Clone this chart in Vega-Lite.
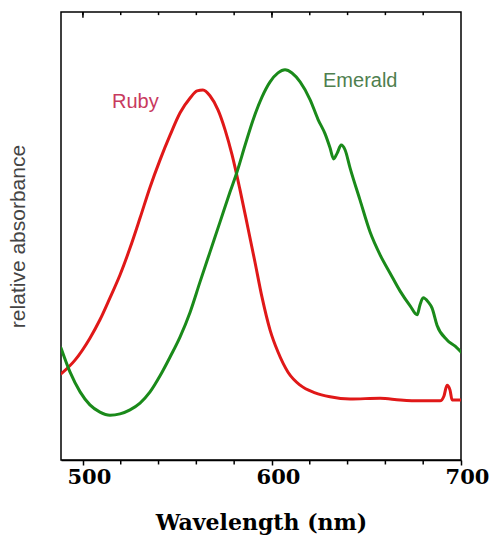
{
  "$schema": "https://vega.github.io/schema/vega-lite/v6.json",
  "autosize": "none",
  "width": 400,
  "height": 448,
  "padding": {"left": 61, "top": 12, "right": 36, "bottom": 75},
  "background": "white",
  "config": {
    "view": {"stroke": "black", "strokeWidth": 1.5},
    "font": "Liberation Sans",
    "axis": {"labelOverlap": false, "labelFlush": false}
  },
  "datasets": {
    "spectra": [
      {"series": "Ruby", "wavelength": 488.4, "absorbance": 0.192},
      {"series": "Ruby", "wavelength": 495.8, "absorbance": 0.223},
      {"series": "Ruby", "wavelength": 503.7, "absorbance": 0.272},
      {"series": "Ruby", "wavelength": 509.0, "absorbance": 0.313},
      {"series": "Ruby", "wavelength": 514.3, "absorbance": 0.362},
      {"series": "Ruby", "wavelength": 519.6, "absorbance": 0.413},
      {"series": "Ruby", "wavelength": 524.9, "absorbance": 0.473},
      {"series": "Ruby", "wavelength": 530.2, "absorbance": 0.540},
      {"series": "Ruby", "wavelength": 535.5, "absorbance": 0.609},
      {"series": "Ruby", "wavelength": 540.8, "absorbance": 0.670},
      {"series": "Ruby", "wavelength": 546.1, "absorbance": 0.725},
      {"series": "Ruby", "wavelength": 551.4, "absorbance": 0.775},
      {"series": "Ruby", "wavelength": 556.7, "absorbance": 0.808},
      {"series": "Ruby", "wavelength": 560.4, "absorbance": 0.824},
      {"series": "Ruby", "wavelength": 563.5, "absorbance": 0.826},
      {"series": "Ruby", "wavelength": 567.2, "absorbance": 0.813},
      {"series": "Ruby", "wavelength": 571.5, "absorbance": 0.781},
      {"series": "Ruby", "wavelength": 575.2, "absorbance": 0.737},
      {"series": "Ruby", "wavelength": 578.9, "absorbance": 0.681},
      {"series": "Ruby", "wavelength": 583.1, "absorbance": 0.603},
      {"series": "Ruby", "wavelength": 587.3, "absorbance": 0.518},
      {"series": "Ruby", "wavelength": 591.0, "absorbance": 0.442},
      {"series": "Ruby", "wavelength": 594.7, "absorbance": 0.364},
      {"series": "Ruby", "wavelength": 599.0, "absorbance": 0.290},
      {"series": "Ruby", "wavelength": 603.2, "absorbance": 0.241},
      {"series": "Ruby", "wavelength": 608.5, "absorbance": 0.196},
      {"series": "Ruby", "wavelength": 614.9, "absorbance": 0.167},
      {"series": "Ruby", "wavelength": 622.8, "absorbance": 0.150},
      {"series": "Ruby", "wavelength": 630.7, "absorbance": 0.141},
      {"series": "Ruby", "wavelength": 641.3, "absorbance": 0.136},
      {"series": "Ruby", "wavelength": 657.2, "absorbance": 0.138},
      {"series": "Ruby", "wavelength": 667.8, "absorbance": 0.134},
      {"series": "Ruby", "wavelength": 678.3, "absorbance": 0.132},
      {"series": "Ruby", "wavelength": 688.9, "absorbance": 0.132},
      {"series": "Ruby", "wavelength": 691.0, "absorbance": 0.143},
      {"series": "Ruby", "wavelength": 692.6, "absorbance": 0.167},
      {"series": "Ruby", "wavelength": 694.2, "absorbance": 0.156},
      {"series": "Ruby", "wavelength": 695.3, "absorbance": 0.134},
      {"series": "Ruby", "wavelength": 700.0, "absorbance": 0.134},
      {"series": "Emerald", "wavelength": 488.4, "absorbance": 0.250},
      {"series": "Emerald", "wavelength": 493.2, "absorbance": 0.196},
      {"series": "Emerald", "wavelength": 498.5, "absorbance": 0.152},
      {"series": "Emerald", "wavelength": 503.7, "absorbance": 0.123},
      {"series": "Emerald", "wavelength": 509.0, "absorbance": 0.107},
      {"series": "Emerald", "wavelength": 514.3, "absorbance": 0.100},
      {"series": "Emerald", "wavelength": 519.6, "absorbance": 0.103},
      {"series": "Emerald", "wavelength": 524.9, "absorbance": 0.112},
      {"series": "Emerald", "wavelength": 530.2, "absorbance": 0.127},
      {"series": "Emerald", "wavelength": 535.5, "absorbance": 0.152},
      {"series": "Emerald", "wavelength": 540.8, "absorbance": 0.188},
      {"series": "Emerald", "wavelength": 546.1, "absorbance": 0.230},
      {"series": "Emerald", "wavelength": 551.4, "absorbance": 0.275},
      {"series": "Emerald", "wavelength": 556.7, "absorbance": 0.330},
      {"series": "Emerald", "wavelength": 561.9, "absorbance": 0.397},
      {"series": "Emerald", "wavelength": 567.2, "absorbance": 0.464},
      {"series": "Emerald", "wavelength": 572.5, "absorbance": 0.531},
      {"series": "Emerald", "wavelength": 577.8, "absorbance": 0.598},
      {"series": "Emerald", "wavelength": 581.5, "absorbance": 0.643},
      {"series": "Emerald", "wavelength": 585.8, "absorbance": 0.703},
      {"series": "Emerald", "wavelength": 590.0, "absorbance": 0.759},
      {"series": "Emerald", "wavelength": 594.7, "absorbance": 0.810},
      {"series": "Emerald", "wavelength": 599.0, "absorbance": 0.844},
      {"series": "Emerald", "wavelength": 603.2, "absorbance": 0.864},
      {"series": "Emerald", "wavelength": 606.9, "absorbance": 0.871},
      {"series": "Emerald", "wavelength": 610.6, "absorbance": 0.864},
      {"series": "Emerald", "wavelength": 614.9, "absorbance": 0.844},
      {"series": "Emerald", "wavelength": 620.2, "absorbance": 0.804},
      {"series": "Emerald", "wavelength": 624.4, "absorbance": 0.760},
      {"series": "Emerald", "wavelength": 628.1, "absorbance": 0.728},
      {"series": "Emerald", "wavelength": 630.7, "absorbance": 0.697},
      {"series": "Emerald", "wavelength": 632.6, "absorbance": 0.672},
      {"series": "Emerald", "wavelength": 634.5, "absorbance": 0.685},
      {"series": "Emerald", "wavelength": 636.6, "absorbance": 0.703},
      {"series": "Emerald", "wavelength": 638.7, "absorbance": 0.692},
      {"series": "Emerald", "wavelength": 641.3, "absorbance": 0.652},
      {"series": "Emerald", "wavelength": 646.6, "absorbance": 0.580},
      {"series": "Emerald", "wavelength": 651.9, "absorbance": 0.509},
      {"series": "Emerald", "wavelength": 657.2, "absorbance": 0.458},
      {"series": "Emerald", "wavelength": 662.5, "absorbance": 0.417},
      {"series": "Emerald", "wavelength": 667.8, "absorbance": 0.377},
      {"series": "Emerald", "wavelength": 673.1, "absorbance": 0.344},
      {"series": "Emerald", "wavelength": 676.8, "absorbance": 0.324},
      {"series": "Emerald", "wavelength": 678.3, "absorbance": 0.346},
      {"series": "Emerald", "wavelength": 680.0, "absorbance": 0.362},
      {"series": "Emerald", "wavelength": 682.6, "absorbance": 0.353},
      {"series": "Emerald", "wavelength": 684.7, "absorbance": 0.339},
      {"series": "Emerald", "wavelength": 687.3, "absorbance": 0.301},
      {"series": "Emerald", "wavelength": 692.6, "absorbance": 0.268},
      {"series": "Emerald", "wavelength": 696.9, "absorbance": 0.254},
      {"series": "Emerald", "wavelength": 700.0, "absorbance": 0.241}
    ],
    "labels": [
      {"series": "Ruby", "wavelength": 515.4, "absorbance": 0.786},
      {"series": "Emerald", "wavelength": 627.0, "absorbance": 0.833}
    ],
    "ticks": [
      {"wavelength": 500}, {"wavelength": 520}, {"wavelength": 540}, {"wavelength": 560},
      {"wavelength": 580}, {"wavelength": 600}, {"wavelength": 620}, {"wavelength": 640},
      {"wavelength": 660}, {"wavelength": 680}
    ]
  },
  "layer": [
    {
      "data": {"name": "spectra"},
      "mark": {"type": "line", "interpolate": "monotone", "strokeWidth": 3, "strokeCap": "round", "strokeJoin": "round", "clip": true},
      "encoding": {
        "x": {
          "field": "wavelength", "type": "quantitative",
          "scale": {"domain": [488.4, 700], "nice": false, "zero": false},
          "axis": {
            "orient": "bottom",
            "values": [500, 600, 700],
            "format": "d",
            "labelFont": "DejaVu Serif", "labelFontWeight": "bold", "labelFontSize": 21,
            "labelColor": "black", "labelPadding": 1, "labelOffset": 6,
            "labelFlush": false, "labelOverlap": false,
            "tickSize": 5, "tickColor": "black", "tickWidth": 1.5,
            "domainColor": "black", "domainWidth": 1.5,
            "grid": false,
            "title": "Wavelength (nm)",
            "titleFont": "DejaVu Serif", "titleFontWeight": "bold", "titleFontSize": 22,
            "titleColor": "black", "titlePadding": 25
          }
        },
        "y": {
          "field": "absorbance", "type": "quantitative",
          "scale": {"domain": [0, 1], "nice": false, "zero": false},
          "axis": {
            "labels": false, "ticks": false, "domain": false, "grid": false,
            "title": "relative absorbance",
            "titleFont": "Liberation Sans", "titleFontWeight": "normal", "titleFontSize": 21,
            "titleColor": "#444444", "titlePadding": 33
          }
        },
        "color": {
          "field": "series", "type": "nominal",
          "scale": {"domain": ["Ruby", "Emerald"], "range": ["#e01818", "#1a8a1a"]},
          "legend": null
        },
        "detail": {"field": "series"}
      }
    },
    {
      "data": {"name": "ticks"},
      "mark": {"type": "rule", "color": "black", "strokeWidth": 1.5},
      "encoding": {
        "x": {"field": "wavelength", "type": "quantitative"},
        "y": {"datum": 1},
        "y2": {"datum": 0.993}
      }
    },
    {
      "data": {"name": "ticks"},
      "transform": [{"filter": "datum.wavelength % 100 === 0"}],
      "mark": {"type": "rule", "color": "black", "strokeWidth": 1.5},
      "encoding": {
        "x": {"field": "wavelength", "type": "quantitative"},
        "y": {"datum": 1},
        "y2": {"datum": 0.987}
      }
    },
    {
      "data": {"name": "ticks"},
      "transform": [{"filter": "datum.wavelength % 100 !== 0"}],
      "mark": {"type": "rule", "color": "black", "strokeWidth": 1.5, "clip": false},
      "encoding": {
        "x": {"field": "wavelength", "type": "quantitative"},
        "y": {"datum": 0},
        "y2": {"datum": -0.01}
      }
    },
    {
      "data": {"name": "labels"},
      "mark": {"type": "text", "align": "left", "baseline": "alphabetic", "fontSize": 20, "font": "Liberation Sans"},
      "encoding": {
        "x": {"field": "wavelength", "type": "quantitative"},
        "y": {"field": "absorbance", "type": "quantitative"},
        "text": {"field": "series"},
        "color": {
          "field": "series", "type": "nominal",
          "scale": {"domain": ["Ruby", "Emerald"], "range": ["#c83a5e", "#4f7f4f"]},
          "legend": null
        }
      }
    }
  ],
  "resolve": {"scale": {"color": "independent"}}
}
